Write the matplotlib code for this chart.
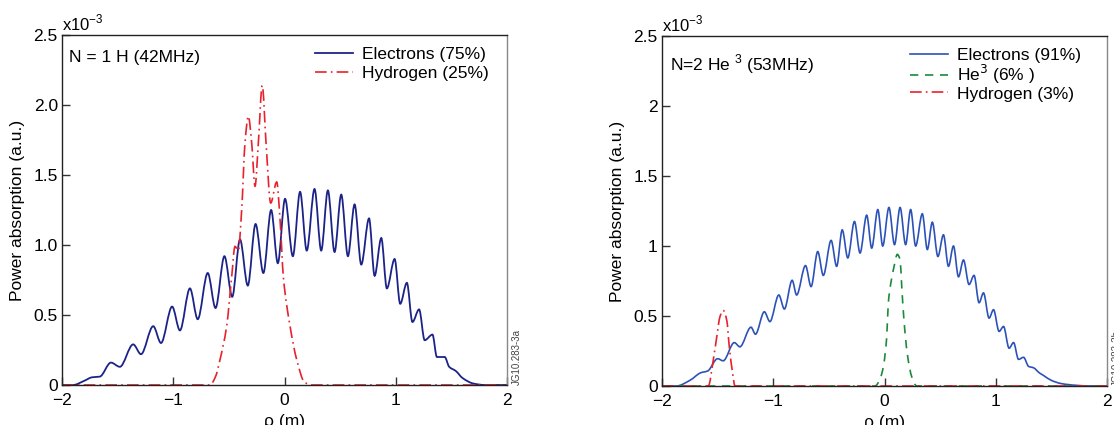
import matplotlib
matplotlib.use("Agg")
import matplotlib.pyplot as plt
from matplotlib.path import Path
from matplotlib.patches import PathPatch
from matplotlib.lines import Line2D

plt.rcParams['font.family'] = ['Liberation Sans', 'DejaVu Sans']

# ---------------- data (units of 1e-3) ----------------
electrons_left = [(-2.0, 0.0), (-1.9, 0.0), (-1.8, 0.03), (-1.73, 0.055), (-1.66, 0.06),
                  (-1.56, 0.16), (-1.48, 0.13), (-1.36, 0.29), (-1.29, 0.22), (-1.18, 0.42),
                  (-1.11, 0.30), (-1.01, 0.56), (-0.94, 0.39), (-0.85, 0.69), (-0.78, 0.47),
                  (-0.69, 0.80), (-0.62, 0.55), (-0.54, 0.92), (-0.47, 0.63), (-0.40, 1.04),
                  (-0.33, 0.71), (-0.26, 1.15), (-0.19, 0.80), (-0.12, 1.25), (-0.06, 0.87),
                  (0.005, 1.33), (0.075, 0.92), (0.14, 1.38), (0.20, 0.96), (0.27, 1.40),
                  (0.33, 0.96), (0.39, 1.39), (0.45, 0.95), (0.51, 1.36), (0.57, 0.92),
                  (0.63, 1.29), (0.69, 0.86), (0.76, 1.19), (0.81, 0.78), (0.87, 1.05),
                  (0.92, 0.69), (0.99, 0.90), (1.04, 0.58), (1.10, 0.73), (1.15, 0.45),
                  (1.21, 0.54), (1.26, 0.32), (1.33, 0.36), (1.37, 0.20), (1.44, 0.20),
                  (1.48, 0.13), (1.54, 0.10), (1.60, 0.05), (1.70, 0.01), (1.80, 0.0), (2.0, 0.0)]

hydrogen_left = [(-2.0, 0.0), (-0.67, 0.0), (-0.62, 0.06), (-0.58, 0.18), (-0.52, 0.42),
                 (-0.475, 0.77), (-0.445, 0.99), (-0.415, 0.96), (-0.385, 1.25), (-0.355, 1.73),
                 (-0.325, 1.92), (-0.295, 1.73), (-0.265, 1.42), (-0.235, 1.73), (-0.20, 2.14),
                 (-0.166, 1.73), (-0.124, 1.30), (-0.07, 1.45), (-0.04, 1.18), (-0.01, 0.77),
                 (0.05, 0.42), (0.11, 0.18), (0.18, 0.02), (0.25, 0.0), (2.0, 0.0)]

electrons_right = [(-2.0, 0.0), (-1.87, 0.0), (-1.75, 0.04), (-1.65, 0.095), (-1.59, 0.107),
                   (-1.50, 0.195), (-1.45, 0.18), (-1.35, 0.31), (-1.30, 0.28), (-1.20, 0.42),
                   (-1.16, 0.37), (-1.08, 0.53), (-1.03, 0.46), (-0.95, 0.65), (-0.90, 0.55),
                   (-0.83, 0.755), (-0.79, 0.65), (-0.71, 0.86), (-0.66, 0.71), (-0.60, 0.96),
                   (-0.55, 0.79), (-0.48, 1.04), (-0.43, 0.855), (-0.38, 1.115), (-0.33, 0.915),
                   (-0.27, 1.175), (-0.22, 0.95), (-0.16, 1.22), (-0.115, 0.985), (-0.06, 1.26),
                   (-0.016, 1.00), (0.04, 1.275), (0.09, 1.01), (0.14, 1.275), (0.19, 1.01),
                   (0.235, 1.26), (0.28, 1.00), (0.34, 1.23), (0.385, 0.975), (0.43, 1.17),
                   (0.48, 0.925), (0.53, 1.08), (0.575, 0.855), (0.62, 1.00), (0.665, 0.78),
                   (0.71, 0.90), (0.76, 0.725), (0.805, 0.79), (0.85, 0.595), (0.89, 0.665),
                   (0.94, 0.485), (0.98, 0.545), (1.03, 0.39), (1.07, 0.425), (1.12, 0.27),
                   (1.16, 0.31), (1.205, 0.19), (1.25, 0.205), (1.295, 0.14), (1.34, 0.13),
                   (1.39, 0.095), (1.43, 0.075), (1.50, 0.04), (1.59, 0.017), (1.72, 0.005),
                   (1.85, 0.0), (2.0, 0.0)]

he3_right = [(-2.0, 0.0), (-0.085, 0.0), (-0.04, 0.05), (-0.01, 0.14), (0.02, 0.35),
             (0.034, 0.59), (0.056, 0.73), (0.085, 0.85), (0.115, 0.94), (0.14, 0.90),
             (0.155, 0.71), (0.175, 0.47), (0.205, 0.23), (0.245, 0.066), (0.29, 0.0), (2.0, 0.0)]

hydrogen_right = [(-2.0, 0.0), (-1.584, 0.0), (-1.539, 0.186), (-1.508, 0.35), (-1.479, 0.495),
                  (-1.449, 0.54), (-1.418, 0.47), (-1.395, 0.28), (-1.365, 0.09), (-1.344, 0.0),
                  (2.0, 0.0)]

x_ticks = [-2, -1, 0, 1, 2]
x_tick_labels = ['\u22122', '\u22121', '0', '1', '2']
y_ticks = [0, 0.5, 1.0, 1.5, 2.0, 2.5]
y_labels_left = ['0', '0.5', '1.0', '1.5', '2.0', '2.5']
y_labels_right = ['0', '0.5', '1', '1.5', '2', '2.5']

# ---------------- figure ----------------
fig = plt.figure(figsize=(11.14, 4.25), dpi=100)
W, H = 1114, 425
axL = fig.add_axes([62 / W, 1 - 385 / H, 445 / W, 350 / H])
axR = fig.add_axes([662 / W, 1 - 386 / H, 445 / W, 350 / H])

RED = '#e8222c'
NAVY = '#1c2388'
BLUE = '#2c52b8'
GREEN = '#1b8a3c'
dashdot = (0, (7, 2.5, 1, 2.5))


def smooth_path(pts):
    """Monotone cubic (Fritsch-Carlson) rendering of the read points as Bezier curves."""
    xs = [p[0] for p in pts]
    ys = [p[1] for p in pts]
    n = len(xs)
    h = [xs[i + 1] - xs[i] for i in range(n - 1)]
    d = [(ys[i + 1] - ys[i]) / h[i] for i in range(n - 1)]
    m = [0.0] * n
    for k in range(1, n - 1):
        if d[k - 1] * d[k] > 0:
            w1 = 2 * h[k] + h[k - 1]
            w2 = h[k] + 2 * h[k - 1]
            m[k] = (w1 + w2) / (w1 / d[k - 1] + w2 / d[k])
    verts = [(xs[0], ys[0])]
    codes = [Path.MOVETO]
    for i in range(n - 1):
        verts += [(xs[i] + h[i] / 3, ys[i] + m[i] * h[i] / 3),
                  (xs[i + 1] - h[i] / 3, ys[i + 1] - m[i + 1] * h[i] / 3),
                  (xs[i + 1], ys[i + 1])]
        codes += [Path.CURVE4] * 3
    return Path(verts, codes)


def draw(ax, pts, **kw):
    ax.add_patch(PathPatch(smooth_path(pts), fill=False, capstyle='butt', **kw))
    return Line2D([], [], color=kw['edgecolor'], lw=kw['lw'], ls=kw.get('ls', '-'))


hL = [draw(axL, electrons_left, edgecolor=NAVY, lw=1.3),
      draw(axL, hydrogen_left, edgecolor=RED, lw=1.2, ls=dashdot)]
labL = ['Electrons (75%)', 'Hydrogen (25%)']

hR = [draw(axR, electrons_right, edgecolor=BLUE, lw=1.2),
      draw(axR, he3_right, edgecolor=GREEN, lw=1.2, ls=(0, (5, 4))),
      draw(axR, hydrogen_right, edgecolor=RED, lw=1.2, ls=dashdot)]
labR = ['Electrons (91%)', 'He$^3$ (6% )', 'Hydrogen (3%)']

for ax, ylabs in ((axL, y_labels_left), (axR, y_labels_right)):
    ax.set_xlim(-2, 2)
    ax.set_ylim(0, 2.5)
    ax.set_xticks(x_ticks)
    ax.set_xticklabels(x_tick_labels)
    ax.set_yticks(y_ticks)
    ax.set_yticklabels(ylabs)
    ax.tick_params(direction='in', length=6, width=1, labelsize=12.5, color='#333333',
                   top=False, right=False)
    ax.tick_params(axis='x', pad=6)
    ax.tick_params(axis='y', pad=3)
    for s in ax.spines.values():
        s.set_linewidth(1.0)
        s.set_color('#222222')
    ax.spines['right'].set_color('#888888')
    ax.set_ylabel('Power absorption (a.u.)', fontsize=12.5)
    ax.set_xlabel('\u03c1 (m)', fontsize=12.5)
    ax.xaxis.set_label_coords(0.5, -0.083)
    ax.yaxis.set_label_coords(-0.083, 0.5)
    ax.text(0.0, 1.005, 'x10$^{\\mathregular{\u22123}}$', transform=ax.transAxes,
            fontsize=12, ha='left', va='bottom')

axL.legend(hL, labL, loc='upper right', frameon=False, fontsize=12.5, handlelength=2.2,
           handletextpad=0.5, labelspacing=0.2, borderaxespad=0.5,
           bbox_to_anchor=(0.994, 1.01))
axR.legend(hR, labR, loc='upper right', frameon=False, fontsize=12.5, handlelength=2.2,
           handletextpad=0.5, labelspacing=0.0, borderaxespad=0.5,
           bbox_to_anchor=(0.977, 1.01))

axL.text(0.015, 0.935, 'N = 1 H (42MHz)', transform=axL.transAxes, fontsize=12.5,
         ha='left', va='center')
axR.text(0.018, 0.92, 'N=2 He $^{\\mathregular{3}}$ (53MHz)', transform=axR.transAxes,
         fontsize=12.5, ha='left', va='center')

axL.text(1.012, 0.0, 'JG10.283-3a', transform=axL.transAxes, rotation=90,
         fontsize=7, ha='left', va='bottom', color='#444444')
axR.text(1.012, 0.0, 'JG10.283-3b', transform=axR.transAxes, rotation=90,
         fontsize=7, ha='left', va='bottom', color='#444444')

fig.savefig('out.png', dpi=100)
